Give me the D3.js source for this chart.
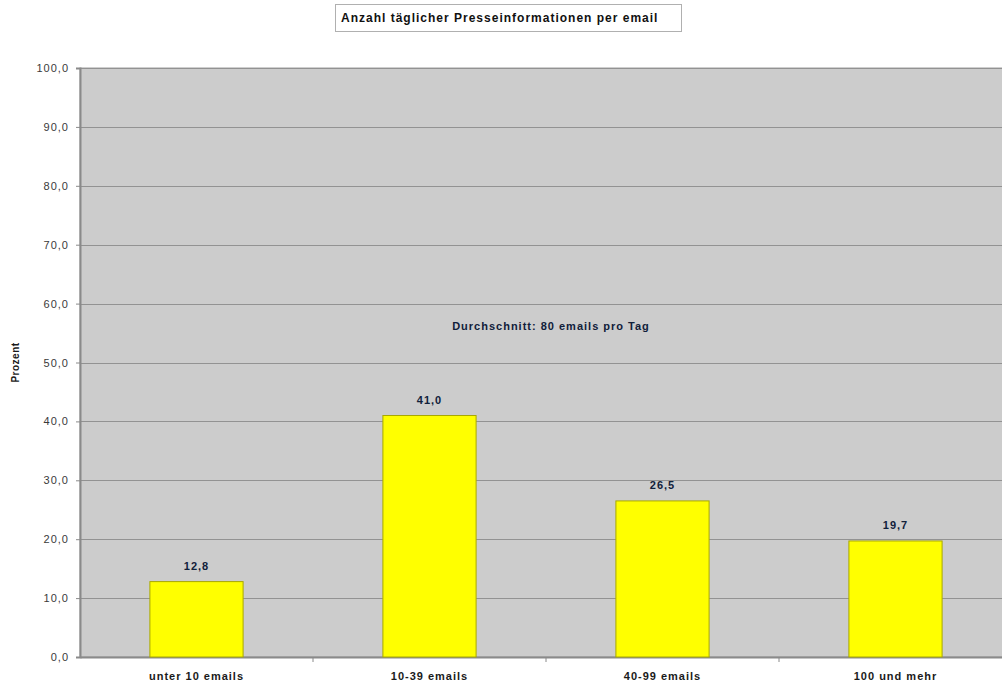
<!DOCTYPE html>
<html>
<head>
<meta charset="utf-8">
<script src="https://cdn.jsdelivr.net/npm/d3@7"></script>
<style>
  html, body { margin: 0; padding: 0; background: #ffffff; }
  svg { display: block; font-family: "Liberation Sans", Arial, sans-serif; }
</style>
</head>
<body>
<svg id="chart" width="1002" height="687"></svg>
<script>
// Kategorien und Werte (Prozent)
const categories = ["unter 10 emails", "10-39 emails", "40-99 emails", "100 und mehr"];
const values = [12.8, 41.0, 26.5, 19.7];
const yTicks = [0, 10, 20, 30, 40, 50, 60, 70, 80, 90, 100];
const title = "Anzahl täglicher Presseinformationen per email";
const note = "Durchschnitt: 80 emails pro Tag";
const yTitle = "Prozent";

const svg = d3.select("#chart");
const plot = { left: 80, right: 1012, top: 68, bottom: 657 };

const x = d3.scaleBand()
  .domain(categories)
  .range([plot.left, plot.right])
  .paddingInner(0.6)
  .paddingOuter(0.3);

const y = d3.scaleLinear().domain([0, 100]).range([plot.bottom, plot.top]);

const fmt = v => v.toFixed(1).replace(".", ",");

// Plotfläche
svg.append("rect")
  .attr("x", plot.left).attr("y", plot.top)
  .attr("width", plot.right - plot.left).attr("height", plot.bottom - plot.top)
  .attr("fill", "#cccccc")
  .attr("stroke", "#a0a0a0").attr("stroke-width", 1);

// Gitterlinien
svg.append("g")
  .selectAll("line")
  .data(yTicks.filter(d => d > 0))
  .join("line")
  .attr("x1", plot.left).attr("x2", plot.right)
  .attr("y1", d => Math.round(y(d)) + 0.5).attr("y2", d => Math.round(y(d)) + 0.5)
  .attr("stroke", "#929292").attr("stroke-width", 1);

// Y-Achse
const yAxis = svg.append("g")
  .attr("transform", `translate(${plot.left},0)`)
  .call(d3.axisLeft(y).tickValues(yTicks).tickSize(4).tickPadding(7).tickFormat(fmt));
yAxis.select(".domain").attr("stroke", "#8a8a8a").attr("stroke-width", 2);
yAxis.selectAll(".tick line").attr("stroke", "#8a8a8a");
yAxis.selectAll(".tick text")
  .attr("font-size", 11).attr("fill", "#3a3a3a")
  .attr("letter-spacing", 1)
  .attr("font-family", "Liberation Sans, Arial, sans-serif");

// X-Achse
const xAxis = svg.append("g")
  .attr("transform", `translate(0,${plot.bottom})`)
  .call(d3.axisBottom(x).tickSize(0).tickPadding(15));
xAxis.select(".domain").attr("stroke", "#8a8a8a").attr("stroke-width", 2);
xAxis.selectAll(".tick text")
  .attr("font-size", 11).attr("font-weight", "bold").attr("fill", "#1a1a1a")
  .attr("letter-spacing", 1)
  .attr("font-family", "Liberation Sans, Arial, sans-serif");

// Trennstriche zwischen den Kategorien
const step = x.step();
svg.append("g")
  .selectAll("line")
  .data(categories.slice(1))
  .join("line")
  .attr("x1", d => x(d) - step * x.paddingInner() / 2)
  .attr("x2", d => x(d) - step * x.paddingInner() / 2)
  .attr("y1", plot.bottom).attr("y2", plot.bottom + 5)
  .attr("stroke", "#8a8a8a");

// Balken
svg.append("g")
  .selectAll("rect")
  .data(values)
  .join("rect")
  .attr("x", (d, i) => x(categories[i]))
  .attr("y", d => y(d))
  .attr("width", x.bandwidth())
  .attr("height", d => y(0) - y(d))
  .attr("fill", "#ffff00")
  .attr("stroke", "#a8a800").attr("stroke-width", 1);

// Wertebeschriftungen
svg.append("g")
  .selectAll("text")
  .data(values)
  .join("text")
  .attr("x", (d, i) => x(categories[i]) + x.bandwidth() / 2)
  .attr("y", d => y(d) - 12)
  .attr("text-anchor", "middle")
  .attr("font-size", 11).attr("font-weight", "bold")
  .attr("letter-spacing", 1)
  .attr("fill", "#10203a")
  .text(d => fmt(d));

// Hinweis zum Durchschnitt
svg.append("text")
  .attr("x", 551).attr("y", 330)
  .attr("text-anchor", "middle")
  .attr("font-size", 11).attr("font-weight", "bold")
  .attr("letter-spacing", 1)
  .attr("fill", "#10203a")
  .text(note);

// Achsentitel
svg.append("text")
  .attr("transform", `translate(19,${(plot.top + plot.bottom) / 2}) rotate(-90)`)
  .attr("text-anchor", "middle")
  .attr("font-size", 10).attr("font-weight", "bold")
  .attr("letter-spacing", 0.5)
  .attr("fill", "#1a1a1a")
  .text(yTitle);

// Titel mit Rahmen
const tg = svg.append("g");
tg.append("rect")
  .attr("x", 335.5).attr("y", 4.5).attr("width", 346).attr("height", 27)
  .attr("fill", "#ffffff").attr("stroke", "#b0b0b0").attr("stroke-width", 1);
tg.append("text")
  .attr("x", 341).attr("y", 22)
  .attr("font-size", 12).attr("font-weight", "bold")
  .attr("letter-spacing", 1)
  .attr("fill", "#111111")
  .text(title);
</script>
</body>
</html>
